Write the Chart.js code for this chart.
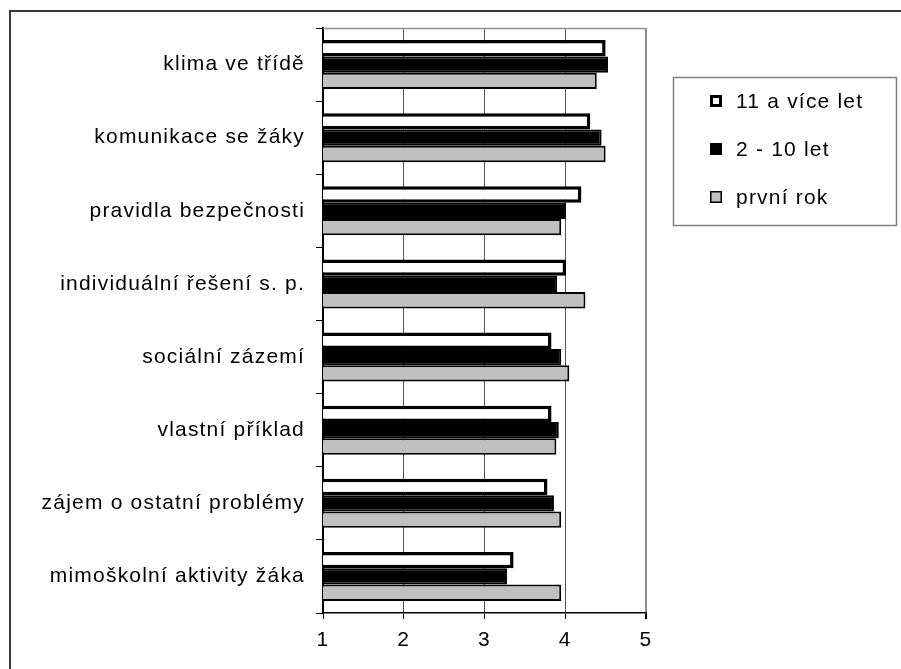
<!DOCTYPE html>
<html>
<head>
<meta charset="utf-8">
<script src="https://cdn.jsdelivr.net/npm/chart.js@4.4.0/dist/chart.umd.min.js"></script>
<style>
html,body{margin:0;padding:0;background:#fff;}
canvas{display:block;}
</style>
</head>
<body>
<canvas id="c" width="901" height="669"></canvas>
<script>
const categories = ['klima ve třídě','komunikace se žáky','pravidla bezpečnosti','individuální řešení s. p.','sociální zázemí','vlastní příklad','zájem o ostatní problémy','mimoškolní aktivity žáka'];
const seriesNames = ['11 a více let','2 - 10 let','první rok'];
const vals11 = [4.50, 4.31, 4.20, 4.01, 3.83, 3.83, 3.78, 3.36];
const vals2to10 = [4.53, 4.45, 4.01, 3.90, 3.95, 3.92, 3.86, 3.28];
const valsFirst = [4.39, 4.50, 3.95, 4.25, 4.05, 3.89, 3.95, 3.95];
const xTicks = [1, 2, 3, 4, 5];

const FONT = 'Liberation Sans, Arial, sans-serif';
const SPACING = '1.2px';

const fills = ['#ffffff', '#000000', '#c0c0c0'];
const borders = [3.5, 2, 2];

const decor = {
  id: 'decor',
  beforeDraw(chart) {
    const ctx = chart.ctx;
    try { ctx.letterSpacing = SPACING; } catch (e) {}
  },
  afterDraw(chart) {
    const ctx = chart.ctx;
    const a = chart.chartArea;
    ctx.save();
    try { ctx.letterSpacing = SPACING; } catch (e) {}
    // plot top border
    ctx.strokeStyle = '#909090';
    ctx.lineWidth = 1.5;
    ctx.beginPath();
    ctx.moveTo(a.left, a.top + 0.5);
    ctx.lineTo(a.right, a.top + 0.5);
    ctx.stroke();
    // outer frame
    ctx.strokeStyle = '#3a3a3a';
    ctx.lineWidth = 2;
    ctx.beginPath();
    ctx.moveTo(10, 669);
    ctx.lineTo(10, 11);
    ctx.lineTo(901, 11);
    ctx.stroke();
    // legend box
    ctx.strokeStyle = '#808080';
    ctx.lineWidth = 1.5;
    ctx.strokeRect(673.5, 77.5, 223, 148);
    const ys = [101, 149, 197];
    ctx.font = '21px ' + FONT;
    ctx.textBaseline = 'middle';
    ctx.textAlign = 'left';
    chart.data.datasets.forEach((ds, i) => {
      const y = ys[i];
      const s = 12;
      ctx.fillStyle = ds.backgroundColor;
      ctx.fillRect(710, y - s / 2, s, s);
      ctx.strokeStyle = '#000';
      const bw = i === 0 ? 3 : 1.5;
      ctx.lineWidth = bw;
      ctx.strokeRect(710 + bw / 2, y - s / 2 + bw / 2, s - bw, s - bw);
      ctx.fillStyle = '#000';
      ctx.fillText(ds.label, 736, y + 1);
    });
    ctx.restore();
  }
};

const datasets = [vals11, vals2to10, valsFirst].map((d, i) => ({
  label: seriesNames[i],
  data: d,
  backgroundColor: fills[i],
  borderColor: '#000000',
  borderWidth: borders[i],
  barPercentage: 1.0,
  categoryPercentage: 0.67
}));

new Chart(document.getElementById('c'), {
  type: 'bar',
  data: { labels: categories, datasets },
  options: {
    indexAxis: 'y',
    responsive: false,
    animation: false,
    devicePixelRatio: 1,
    layout: { padding: { left: 0, right: 255, top: 28, bottom: 16 } },
    plugins: { legend: { display: false }, tooltip: { enabled: false } },
    scales: {
      x: {
        type: 'linear',
        min: xTicks[0],
        max: xTicks[xTicks.length - 1],
        afterBuildTicks(scale) { scale.ticks = xTicks.map(v => ({ value: v })); },
        afterFit(scale) { scale.height = 40; },
        ticks: { color: '#000', font: { family: FONT, size: 21 }, padding: 9, stepSize: 1 },
        grid: {
          color: (c) => (c.tick && c.tick.value === 5) ? '#8c8c8c' : '#555555',
          lineWidth: (c) => (c.tick && c.tick.value === 5) ? 2 : 1,
          tickColor: '#000',
          tickLength: 6
        },
        border: { color: '#000', width: 1.5 }
      },
      y: {
        afterFit(scale) { scale.width = 323; },
        ticks: { color: '#000', font: { family: FONT, size: 21 }, padding: 11 },
        grid: { drawOnChartArea: false, offset: true, tickColor: '#000', tickLength: 7, color: '#000' },
        border: { color: '#000', width: 2 }
      }
    }
  },
  plugins: [decor]
});
</script>
</body>
</html>
